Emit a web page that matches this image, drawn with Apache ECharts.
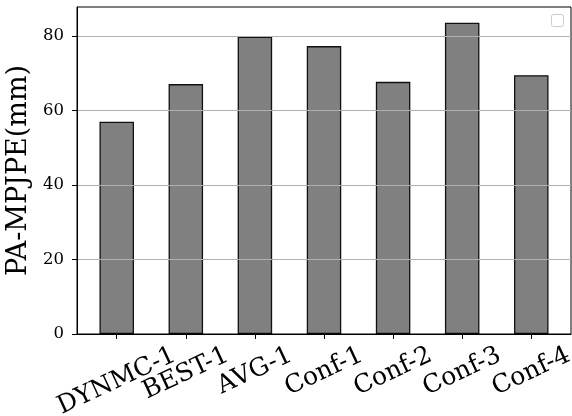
<!DOCTYPE html>
<html>
<head>
<meta charset="utf-8">
<script src="https://cdn.jsdelivr.net/npm/echarts@6/dist/echarts.min.js"></script>
<style>
html,body{margin:0;padding:0;background:#fff;}
#chart{width:572px;height:416px;}
</style>
</head>
<body>
<div id="chart"></div>
<script>
const categories = ['DYNMC-1', 'BEST-1', 'AVG-1', 'Conf-1', 'Conf-2', 'Conf-3', 'Conf-4'];
const values = [57.0, 67.1, 79.8, 77.3, 67.7, 83.6, 69.5];
const yTicks = [0, 20, 40, 60, 80];
const yLabel = 'PA-MPJPE(mm)';

const FONT = 'DejaVu Serif';
const xLabelSize = 25;
const angle = 25;
const lineH = 29;
const rad = angle * Math.PI / 180;
const xMin = -0.575, xMax = 6.575;

// emulate matplotlib's centered rotated tick labels (bbox top aligned under tick)
const cvs = document.createElement('canvas');
const ctx = cvs.getContext('2d');
ctx.font = xLabelSize + 'px "' + FONT + '"';
const rich = {
  blank: {fontSize: 1, lineHeight: 1, color: 'rgba(0,0,0,0)'}
};
categories.forEach(function (c, i) {
  const L = ctx.measureText(c).width;
  const Hb = L * Math.sin(rad) + lineH * Math.cos(rad);
  const dy = Hb / 2;
  rich['c' + i] = {
    fontFamily: FONT,
    fontSize: xLabelSize,
    lineHeight: lineH,
    color: '#000',
    padding: [2 * dy * Math.cos(rad), 2 * dy * Math.sin(rad), 0, 0]
  };
});

const catIdx = categories.map(function (c, i) { return i; });
// invisible placeholders at the axis ends so no real label is treated as min/max label
const labelValues = [xMin].concat(catIdx, [xMax]);
const barData = values.map(function (v, i) { return [i, v]; });

const chart = echarts.init(document.getElementById('chart'), null, {renderer: 'canvas'});
chart.setOption({
  animation: false,
  backgroundColor: '#fff',
  grid: {
    left: 77, right: 1, top: 7, bottom: 82,
    show: true, borderColor: '#000', borderWidth: 1,
    containLabel: false, outerBoundsMode: 'none'
  },
  xAxis: {
    type: 'value',
    min: xMin,
    max: xMax,
    axisLine: {show: true, onZero: false, lineStyle: {color: '#000', width: 1}},
    axisTick: {show: true, customValues: catIdx, length: 5, lineStyle: {color: '#000', width: 1}},
    splitLine: {show: false},
    axisLabel: {
      customValues: labelValues,
      showMinLabel: false,
      showMaxLabel: false,
      hideOverlap: false,
      rotate: angle,
      align: 'center',
      verticalAlign: 'middle',
      margin: 7,
      formatter: function (v) {
        const i = Math.round(v);
        if (Math.abs(v - i) > 1e-6 || i < 0 || i >= categories.length) {
          return '{blank| }';
        }
        return '{c' + i + '|' + categories[i] + '}';
      },
      rich: rich
    }
  },
  yAxis: {
    type: 'value',
    min: 0,
    max: 87.8,
    interval: 20,
    name: yLabel,
    nameLocation: 'middle',
    nameGap: 37,
    nameTextStyle: {fontFamily: FONT, fontSize: 27, color: '#000'},
    axisLine: {show: true, onZero: false, lineStyle: {color: '#000', width: 1}},
    axisTick: {show: true, customValues: yTicks, length: 5, lineStyle: {color: '#000', width: 1}},
    axisLabel: {
      customValues: yTicks,
      fontFamily: FONT, fontSize: 16.5, color: '#000', margin: 13
    },
    splitLine: {show: true, lineStyle: {color: '#b0b0b0', width: 1}}
  },
  graphic: [{
    type: 'rect',
    shape: {x: 551.5, y: 14.5, width: 12, height: 12, r: 2},
    style: {fill: '#fff', stroke: '#cccccc', lineWidth: 1}
  }],
  series: [{
    type: 'bar',
    z: -1,
    data: barData,
    barWidth: 34.5,
    itemStyle: {color: '#808080', borderColor: '#111', borderWidth: 1.3}
  }]
});
</script>
</body>
</html>
